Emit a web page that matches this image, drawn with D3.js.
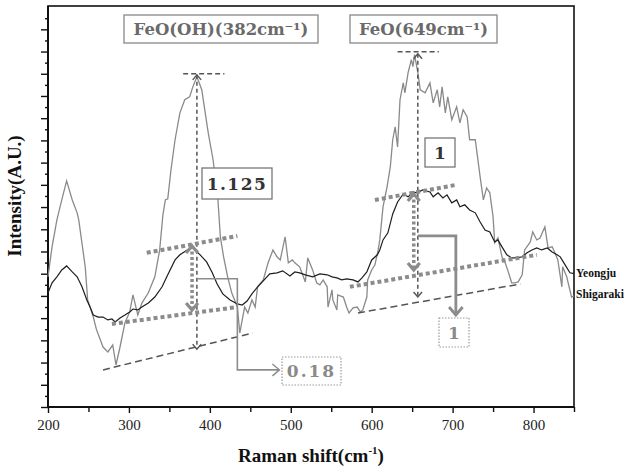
<!DOCTYPE html>
<html>
<head>
<meta charset="utf-8">
<script src="https://cdn.jsdelivr.net/npm/d3@7"></script>
<style>
  body { margin: 0; background: #fff; }
  svg { display: block; }
</style>
</head>
<body>
<svg id="chart" width="627" height="470"></svg>
<script>
// Raman spectra (shift in cm-1, intensity in A.U.)
const shigarakiShift = [200,205,211,217,223,230,236,238,246,249,256,260,268,274,280,284,289,295,301,305,311,316,324,332,338,342,345,348,352,357,363,369,375,379,384,390,398,404,410,413,417,422,427,434,437,440,443,447,452,456,459,466,472,478,483,487,493,497,502,505,511,518,521,527,532,536,540,545,546,551,552,557,558,565,569,572,577,582,586,589,594,595,600,604,608,610,614,619,623,626,629,632,635,639,641,645,649,651,653,657,660,666,672,676,681,684,687,691,694,699,705,709,713,718,721,728,734,738,742,746,750,752,756,761,765,768,773,777,781,786,789,796,799,804,808,814,818,823,826,830,835,836,841,847,850];
const shigarakiIntensity = [5.86,7.21,8.42,9.32,10.18,9.32,8.74,8.42,6.31,4.82,4.05,3.47,2.70,2.48,2.79,1.89,2.70,3.78,4.28,5.05,4.14,4.68,5.14,5.86,7.07,8.65,9.32,9.37,10.68,12.03,13.24,13.83,13.96,14.41,14.86,14.28,12.34,11.13,9.32,7.66,6.76,5.86,5.14,4.50,3.33,3.92,4.50,4.23,4.82,4.50,5.41,5.72,6.49,7.07,6.76,6.62,7.66,6.49,6.62,6.49,6.31,5.63,6.71,6.17,5.59,5.50,5.72,5.41,4.50,5.27,4.82,4.37,5.05,4.95,4.50,4.23,4.46,4.50,4.28,4.37,4.95,5.72,6.17,6.40,7.07,7.52,9.01,9.91,10.81,12.03,12.61,11.71,13.83,14.59,14.14,15.05,15.63,15.32,15.86,15.05,14.28,14.14,14.59,13.69,14.28,13.51,14.41,13.24,13.96,12.93,13.51,12.79,13.38,13.06,12.03,12.03,10.36,9.32,9.86,9.64,8.56,7.39,7.61,6.76,6.49,6.17,5.59,5.59,5.63,5.95,7.07,7.43,7.88,7.52,7.61,8.11,7.16,7.21,6.98,6.62,5.41,6.31,5.86,4.95,5.00];

const yeongjuShift = [200,205,211,217,223,230,236,242,248,252,256,262,268,274,279,283,289,295,301,305,311,316,324,332,341,348,357,363,372,379,388,396,403,409,416,425,434,440,446,452,458,466,474,483,490,499,505,511,518,527,536,545,551,557,563,569,577,583,588,594,600,607,610,614,620,626,632,639,645,651,656,663,672,676,682,688,693,699,705,709,715,721,728,734,740,746,752,756,761,767,773,780,786,792,798,804,810,817,823,829,833,839,845,850];
const yeongjuIntensity = [5.14,5.59,5.86,6.17,6.35,6.08,5.86,5.41,4.82,4.50,4.14,4.05,4.05,3.92,3.96,3.83,4.01,4.14,4.28,4.41,4.37,4.50,4.68,4.95,5.41,5.95,6.62,6.85,7.07,7.16,6.85,6.53,6.04,5.54,5.09,4.82,4.64,4.59,4.77,5.09,5.36,5.68,5.99,6.04,6.13,5.90,6.08,6.04,5.95,5.86,5.99,5.95,5.86,5.81,5.72,5.77,5.72,5.63,5.81,6.08,6.62,6.85,7.07,7.52,7.84,8.69,9.23,9.59,9.46,9.68,9.64,9.77,9.68,9.46,9.64,9.41,9.55,9.19,9.32,9.01,9.10,8.87,8.74,8.33,7.97,7.88,7.43,7.52,7.21,6.85,6.71,6.71,6.76,6.94,7.07,7.16,7.07,7.16,6.98,6.85,6.76,6.40,6.04,6.00];

const xTicks = [200, 300, 400, 500, 600, 700, 800];
const xMinorTicks = [250, 350, 450, 550, 650, 750, 850];
const yTicks = d3.range(0, 18, 1);
const yMinorTicks = d3.range(0.5, 18, 1);

// annotation guides, in data units [shift, intensity]
const shigarakiBaselines = [[[268, 1.67], [453, 3.33]], [[583, 4.23], [784, 5.54]]];
const shigarakiPeakCaps = [[[367, 15.0], [418, 15.0]], [[632, 15.99], [683, 15.99]]];
const shigarakiHeights = [[[384, 14.95], [384, 2.6]], [[657, 15.9], [657, 4.95]]];
const yeongjuBaselines = [[[279, 3.74], [434, 4.50]], [[573, 5.41], [804, 6.85]]];
const yeongjuPeakLines = [[[322, 6.94], [434, 7.70]], [[604, 9.32], [703, 9.99]]];
const yeongjuHeights = [[[378, 7.25], [378, 4.37]], [[652, 9.59], [652, 6.17]]];
const ratioLeaders = [[[385, 5.77], [434, 5.77], [434, 1.67], [486, 1.67]], [[657, 7.7], [704, 7.7], [704, 4.14]]];

const peakNames = ["FeO(OH)(382cm\u207B\u00B9)", "FeO(649cm\u207B\u00B9)"];
const heightLabels = ["1.125", "1"];
const ratioLabels = ["0.18", "1"];

const svg = d3.select("#chart");
const x = d3.scaleLinear().domain([200, 850]).range([48, 574]);
const y = d3.scaleLinear().domain([0, 18.05]).range([407, 6]);
const line = d3.line().x(d => x(d[0])).y(d => y(d[1]));

// arrow heads
const defs = svg.append("defs");
function chevron(id, size, width, color) {
  defs.append("marker")
    .attr("id", id)
    .attr("markerUnits", "userSpaceOnUse")
    .attr("viewBox", `${-size - width} ${-size - width} ${2 * (size + width)} ${2 * (size + width)}`)
    .attr("markerWidth", 2 * (size + width))
    .attr("markerHeight", 2 * (size + width))
    .attr("refX", 0).attr("refY", 0)
    .attr("orient", "auto-start-reverse")
    .append("path")
    .attr("d", `M${-size},${-size * 0.85}L0,0L${-size},${size * 0.85}`)
    .attr("fill", "none")
    .attr("stroke", color)
    .attr("stroke-width", width);
}
chevron("dashHead", 5, 1.4, "#555");
chevron("dotHead", 7, 3.2, "#8c8c8c");
chevron("leadHeadL", 7, 1.4, "#8c8c8c");
chevron("leadHeadR", 8, 2.8, "#8c8c8c");

// axes
const xAxis = svg.append("g").attr("transform", "translate(0,407)")
  .call(d3.axisBottom(x).tickValues(xTicks).tickSize(6).tickPadding(6).tickFormat(d3.format("d")));
svg.append("g").attr("transform", "translate(0,407)")
  .call(d3.axisBottom(x).tickValues(xMinorTicks).tickSize(5).tickFormat(""));
svg.append("g").attr("transform", "translate(48,0)")
  .call(d3.axisLeft(y).tickValues(yTicks).tickSize(7).tickFormat(""));
svg.append("g").attr("transform", "translate(48,0)")
  .call(d3.axisLeft(y).tickValues(yMinorTicks).tickSize(3).tickFormat(""));
svg.selectAll(".domain").remove();
svg.selectAll(".tick line").attr("stroke", "#111").attr("stroke-width", 1.4);
xAxis.selectAll("text")
  .attr("font-family", "Liberation Serif, Times New Roman, serif")
  .attr("font-size", 15).attr("fill", "#222");

// frame
svg.append("rect")
  .attr("x", x(200)).attr("y", y(18.05))
  .attr("width", x(850) - x(200)).attr("height", y(0) - y(18.05))
  .attr("fill", "none").attr("stroke", "#111").attr("stroke-width", 1.6);
svg.append("path")
  .attr("d", `M${x(200)},${y(18.05)}V${y(0)}H${x(850)}`)
  .attr("fill", "none").attr("stroke", "#111").attr("stroke-width", 2);

// spectra
svg.append("path")
  .datum(d3.zip(shigarakiShift, shigarakiIntensity))
  .attr("d", line).attr("fill", "none")
  .attr("stroke", "#8a8a8a").attr("stroke-width", 1.3);
svg.append("path")
  .datum(d3.zip(yeongjuShift, yeongjuIntensity))
  .attr("d", line).attr("fill", "none")
  .attr("stroke", "#1e1e1e").attr("stroke-width", 1.2);

// guide lines
function guides(data, color, width, dash, head) {
  svg.append("g").selectAll("path")
    .data(data)
    .join("path")
    .attr("d", line)
    .attr("fill", "none")
    .attr("stroke", color)
    .attr("stroke-width", width)
    .attr("stroke-dasharray", dash)
    .attr("marker-start", head ? `url(#${head})` : null)
    .attr("marker-end", head ? `url(#${head})` : null);
}
guides(shigarakiBaselines, "#555", 1.5, "7,4");
guides(shigarakiPeakCaps, "#555", 1.5, "5,3");
guides(shigarakiHeights, "#555", 1.5, "4,3", "dashHead");
guides(yeongjuBaselines, "#8c8c8c", 4, "4,3");
guides(yeongjuPeakLines, "#8c8c8c", 4, "4,3");
guides(yeongjuHeights, "#8c8c8c", 3.5, "3,2.5", "dotHead");

svg.append("path").datum(ratioLeaders[0]).attr("d", line)
  .attr("fill", "none").attr("stroke", "#8c8c8c").attr("stroke-width", 1.6)
  .attr("marker-end", "url(#leadHeadL)");
svg.append("path").datum(ratioLeaders[1]).attr("d", line)
  .attr("fill", "none").attr("stroke", "#8c8c8c").attr("stroke-width", 2.8)
  .attr("marker-end", "url(#leadHeadR)");

// label boxes
const serif = "DejaVu Serif, serif";
function box(x0, y0, w, h, label, opts) {
  const g = svg.append("g");
  g.append("rect")
    .attr("x", x0).attr("y", y0).attr("width", w).attr("height", h)
    .attr("fill", "#fff")
    .attr("stroke", opts.border)
    .attr("stroke-width", opts.dotted ? 1.2 : 1.3)
    .attr("stroke-dasharray", opts.dotted ? "1.5,1.5" : null);
  g.append("text")
    .attr("x", x0 + w / 2).attr("y", y0 + h / 2 + opts.size * 0.36)
    .attr("text-anchor", "middle")
    .attr("font-family", serif)
    .attr("font-weight", "bold")
    .attr("font-size", opts.size)
    .attr("letter-spacing", opts.spacing || 0)
    .attr("fill", opts.color)
    .text(label);
}
box(124, 15, 194, 28, peakNames[0], {border: "#888", color: "#6a6a6a", size: 16.5});
box(350, 15, 147, 28, peakNames[1], {border: "#888", color: "#6a6a6a", size: 16.5});
box(202, 168, 70, 31, heightLabels[0], {border: "#777", color: "#333", size: 17, spacing: 1.5});
box(425, 138, 30, 29, heightLabels[1], {border: "#777", color: "#333", size: 17});
box(282, 357, 59, 28, ratioLabels[0], {border: "#999", color: "#8a8a8a", size: 17, spacing: 2, dotted: true});
box(439, 318, 30, 29, ratioLabels[1], {border: "#999", color: "#8a8a8a", size: 17, dotted: true});

// series names at the right end
const legendFont = "Liberation Serif, Times New Roman, serif";
svg.append("text").attr("x", 576).attr("y", 277)
  .attr("font-family", legendFont).attr("font-weight", "bold").attr("font-size", 11.5)
  .attr("fill", "#111").text("Yeongju");
svg.append("text").attr("x", 576).attr("y", 298)
  .attr("font-family", legendFont).attr("font-weight", "bold").attr("font-size", 11.5)
  .attr("fill", "#111").text("Shigaraki");

// axis titles
const xTitle = svg.append("text")
  .attr("x", 311).attr("y", 462)
  .attr("text-anchor", "middle")
  .attr("font-family", legendFont).attr("font-weight", "bold").attr("font-size", 19)
  .attr("fill", "#111");
xTitle.append("tspan").text("Raman shift(cm");
xTitle.append("tspan").attr("dy", -8).attr("font-size", 11).text("-1");
xTitle.append("tspan").attr("dy", 8).text(")");

svg.append("text")
  .attr("transform", "translate(21,196) rotate(-90)")
  .attr("text-anchor", "middle")
  .attr("font-family", legendFont).attr("font-weight", "bold").attr("font-size", 19)
  .attr("fill", "#111")
  .text("Intensity(A.U.)");
</script>
</body>
</html>
